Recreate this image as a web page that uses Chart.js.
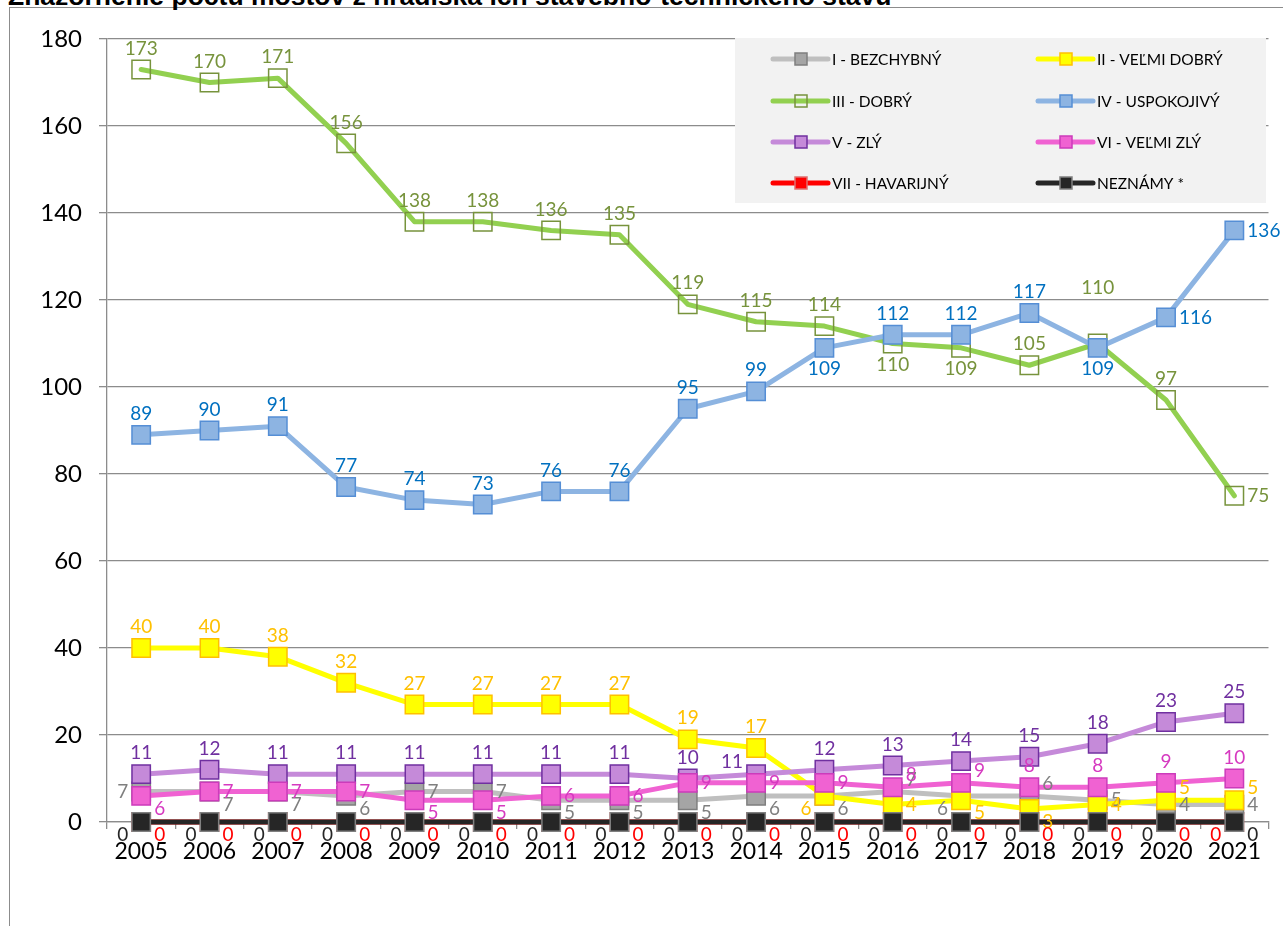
<!DOCTYPE html>
<html>
<head>
<meta charset="utf-8">
<script src="https://cdn.jsdelivr.net/npm/chart.js@4/dist/chart.umd.min.js"></script>
<style>
	html, body { margin: 0; padding: 0; background: #fff; }
	#wrap { position: relative; width: 1283px; height: 926px; overflow: hidden; }
	#frame { position: absolute; left: 9px; top: 7px; width: 1300px; height: 950px; border-left: 1px solid #8c8c8c; border-top: 1px solid #8c8c8c; }
	#title { position: absolute; left: 8px; top: -17px; font: bold 26.5px 'Liberation Sans', Arial, sans-serif; line-height: 26px; color: #000; white-space: nowrap; }
	#chart { position: absolute; left: 0; top: 0; }
</style>
</head>
<body>
<div id="wrap">
	<div id="frame"></div>
	<div id="title">Znázornenie počtu mostov z hľadiska ich stavebno-technického stavu</div>
	<canvas id="chart" width="1283" height="926"></canvas>
</div>
<script>
	// categories
	const years = ['2005', '2006', '2007', '2008', '2009', '2010', '2011', '2012', '2013', '2014', '2015', '2016', '2017', '2018', '2019', '2020', '2021'];

	// series values
	const bezchybny = [7, 7, 7, 6, 7, 7, 5, 5, 5, 6, 6, 7, 6, 6, 5, 4, 4];
	const velmiDobry = [40, 40, 38, 32, 27, 27, 27, 27, 19, 17, 6, 4, 5, 3, 4, 5, 5];
	const dobry = [173, 170, 171, 156, 138, 138, 136, 135, 119, 115, 114, 110, 109, 105, 110, 97, 75];
	const uspokojivy = [89, 90, 91, 77, 74, 73, 76, 76, 95, 99, 109, 112, 112, 117, 109, 116, 136];
	const zly = [11, 12, 11, 11, 11, 11, 11, 11, 10, 11, 12, 13, 14, 15, 18, 23, 25];
	const velmiZly = [6, 7, 7, 7, 5, 5, 6, 6, 9, 9, 9, 8, 9, 8, 8, 9, 10];
	const havarijny = [0, 0, 0, 0, 0, 0, 0, 0, 0, 0, 0, 0, 0, 0, 0, 0, 0];
	const neznamy = [0, 0, 0, 0, 0, 0, 0, 0, 0, 0, 0, 0, 0, 0, 0, 0, 0];

	// y axis ticks
	const yMin = 0;
	const yMax = 180;
	const yStep = 20;

	// data label placement per point (a above, b below, r right, l left, ar/br/al/bl corners, aa far above)
	const posBezchybny = ['l', 'br', 'br', 'br', 'r', 'r', 'br', 'br', 'br', 'br', 'br', 'ar', 'bl', 'ar', 'r', 'r', 'r'];
	const posVelmiDobry = ['a', 'a', 'a', 'a', 'a', 'a', 'a', 'a', 'a', 'a', 'bl', 'r', 'br', 'br', 'r', 'ar', 'ar'];
	const posDobry = ['a', 'a', 'a', 'a', 'a', 'a', 'a', 'a', 'a', 'a', 'a', 'b', 'b', 'a', 'aa', 'a', 'r'];
	const posUspokojivy = ['a', 'a', 'a', 'a', 'a', 'a', 'a', 'a', 'a', 'a', 'b', 'a', 'a', 'a', 'b', 'r', 'r'];
	const posZly = ['a', 'a', 'a', 'a', 'a', 'a', 'a', 'a', 'a', 'al', 'a', 'a', 'a', 'a', 'a', 'a', 'a'];
	const posVelmiZly = ['br', 'r', 'r', 'r', 'br', 'br', 'r', 'r', 'r', 'r', 'r', 'ar', 'ar', 'a', 'a', 'a', 'a'];
	const posHavarijny = ['br', 'br', 'br', 'br', 'br', 'br', 'br', 'br', 'br', 'br', 'br', 'br', 'br', 'br', 'br', 'br', 'bl'];
	const posNeznamy = ['bl', 'bl', 'bl', 'bl', 'bl', 'bl', 'bl', 'bl', 'bl', 'bl', 'bl', 'bl', 'bl', 'bl', 'bl', 'bl', 'br'];

	const fontFamily = "Lato, 'Noto Sans', sans-serif";

	/**
	 * Build one line dataset in the Excel look.
	 */
	function series( label, data, line, fill, border, text, pos, order ) {
		return {
			label,
			data,
			order,
			clip: false,
			borderColor: line,
			borderWidth: 5,
			borderCapStyle: 'round',
			borderJoinStyle: 'round',
			tension: 0,
			pointStyle: 'rect',
			pointRadius: 13,
			pointHoverRadius: 13,
			pointBackgroundColor: fill,
			pointBorderColor: border,
			pointBorderWidth: 1.5,
			labelColor: text,
			labelPos: pos
		};
	}

	const datasets = [
		series( 'I - BEZCHYBNÝ', bezchybny, '#bfbfbf', '#a5a5a5', '#7f7f7f', '#7f7f7f', posBezchybny, 7 ),
		series( 'II - VEĽMI DOBRÝ', velmiDobry, '#ffff00', '#ffff00', '#ffc000', '#ffc000', posVelmiDobry, 6 ),
		series( 'III - DOBRÝ', dobry, '#92d050', 'rgba(0,0,0,0)', '#77933c', '#77933c', posDobry, 5 ),
		series( 'IV - USPOKOJIVÝ', uspokojivy, '#8db4e2', '#8db4e2', '#558ed5', '#0070c0', posUspokojivy, 4 ),
		series( 'V - ZLÝ', zly, '#c58ad9', '#c58ad9', '#7030a0', '#7030a0', posZly, 3 ),
		series( 'VI - VEĽMI ZLÝ', velmiZly, '#f062d2', '#f062d2', '#cc3bbb', '#d63ac0', posVelmiZly, 2 ),
		series( 'VII - HAVARIJNÝ', havarijny, '#ff0000', '#ff0000', '#e07070', '#ff0000', posHavarijny, 1 ),
		series( 'NEZNÁMY *', neznamy, '#262626', '#262626', '#808080', '#262626', posNeznamy, 0 )
	];

	// value labels next to the markers
	const valueLabels = {
		id: 'valueLabels',
		afterDatasetsDraw( chart ) {
			const ctx = chart.ctx;
			ctx.save();
			ctx.font = '19px ' + fontFamily;
			chart.data.datasets.forEach( function ( ds, di ) {
				const meta = chart.getDatasetMeta( di );
				meta.data.forEach( function ( pt, i ) {
					const pos = ds.labelPos[i];
					let x = pt.x;
					let y = pt.y;
					let align = 'center';
					if ( pos === 'a' ) y -= 21;
					else if ( pos === 'aa' ) y -= 56;
					else if ( pos === 'b' ) y += 21;
					else if ( pos.indexOf( 'r' ) !== - 1 ) { x += 13; align = 'left'; }
					else if ( pos.indexOf( 'l' ) !== - 1 ) { x -= 13; align = 'right'; }
					if ( pos === 'ar' || pos === 'al' ) y -= 12;
					if ( pos === 'br' || pos === 'bl' ) y += 13;
					ctx.fillStyle = ds.labelColor;
					ctx.textAlign = align;
					ctx.textBaseline = 'middle';
					ctx.fillText( String( ds.data[i] ), x, y );
				} );
			} );
			ctx.restore();
		}
	};

	// legend box in two columns
	const legendBox = {
		id: 'legendBox',
		afterDraw( chart ) {
			const ctx = chart.ctx;
			const left = 735, top = 38, width = 531, height = 165;
			const cols = [773, 1038];
			const rows = [59, 101, 142, 183];
			ctx.save();
			ctx.fillStyle = '#f2f2f2';
			ctx.fillRect( left, top, width, height );
			ctx.font = '15.5px ' + fontFamily;
			ctx.textBaseline = 'middle';
			ctx.textAlign = 'left';
			chart.data.datasets.forEach( function ( ds, i ) {
				const x = cols[i % 2];
				const y = rows[Math.floor( i / 2 )];
				ctx.strokeStyle = ds.borderColor;
				ctx.lineWidth = 5;
				ctx.lineCap = 'round';
				ctx.beginPath();
				ctx.moveTo( x, y );
				ctx.lineTo( x + 55, y );
				ctx.stroke();
				ctx.fillStyle = ds.pointBackgroundColor;
				ctx.fillRect( x + 22, y - 6, 12, 12 );
				ctx.strokeStyle = ds.pointBorderColor;
				ctx.lineWidth = 1.5;
				ctx.strokeRect( x + 22, y - 6, 12, 12 );
				ctx.fillStyle = '#000';
				ctx.fillText( ds.label, x + 59, y + 1 );
			} );
			ctx.restore();
		}
	};

	new Chart( document.getElementById( 'chart' ).getContext( '2d' ), {
		type: 'line',
		data: {
			labels: years,
			datasets
		},
		options: {
			responsive: false,
			animation: false,
			events: [],
			layout: {
				padding: { left: 0, top: 39, right: 8, bottom: 0 }
			},
			plugins: {
				legend: { display: false },
				tooltip: { enabled: false },
				title: { display: false }
			},
			scales: {
				x: {
					offset: true,
					afterFit( scale ) {
						scale.height = 104;
					},
					grid: {
						offset: true,
						drawOnChartArea: false,
						drawTicks: true,
						tickLength: 7,
						color: '#8c8c8c',
						lineWidth: 1.3
					},
					border: { display: true, color: '#8c8c8c', width: 1.3 },
					ticks: {
						color: '#000',
						padding: 9,
						maxRotation: 0,
						autoSkip: false,
						font: { family: fontFamily, size: 23 }
					}
				},
				y: {
					min: yMin,
					max: yMax,
					afterFit( scale ) {
						scale.width = 107;
					},
					grid: {
						color: '#8c8c8c',
						lineWidth: 1.3,
						drawTicks: true,
						tickLength: 8
					},
					border: { display: true, color: '#8c8c8c', width: 1.3 },
					ticks: {
						stepSize: yStep,
						color: '#000',
						padding: 17,
						font: { family: fontFamily, size: 24 }
					}
				}
			}
		},
		plugins: [valueLabels, legendBox]
	} );
</script>
</body>
</html>
